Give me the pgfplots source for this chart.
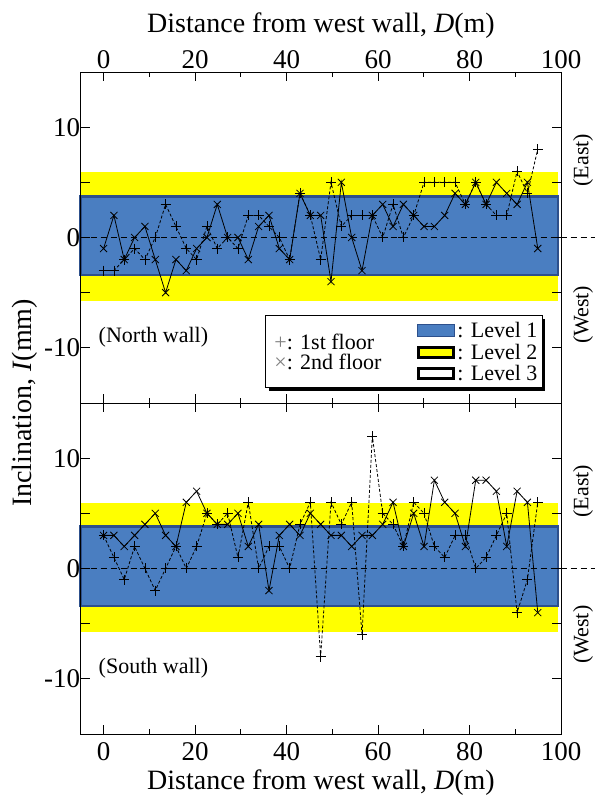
\documentclass[border=0pt]{standalone}
\usepackage{fontspec}
\setmainfont{Liberation Serif}
\usepackage{pgfplots}
\pgfplotsset{compat=1.18}
\definecolor{lvA}{RGB}{74,126,193}
\definecolor{lvAd}{RGB}{45,80,140}
\definecolor{lvB}{RGB}{255,255,0}
\newcommand{\tickf}{\fontsize{27}{30}\selectfont}
\newcommand{\labf}{\fontsize{28}{32}\selectfont}
\newcommand{\legf}{\fontsize{22}{25}\selectfont}
\tikzset{zeroline/.style={black, line width=0.8pt, dash pattern=on 6pt off 4pt}}
\pgfplotsset{
  panel/.style={
    scale only axis, width=480.3pt, height=331pt,
    xmin=-5, xmax=100, ymin=-15, ymax=15,
    xtick={0,20,40,60,80,100}, xticklabels={0,20,40,60,80,100},
    minor xtick={10,30,50,70,90},
    ytick={-10,-5,0,5,10}, yticklabels={-10,,0,,10},
    tick pos=both, tick align=inside,
    major tick length=9pt, minor tick length=5pt,
    tick style={black, line width=0.8pt},
    axis line style={black, line width=0.8pt},
    tick label style={font=\tickf},
    yticklabel style={xshift=3pt},
    clip=false, axis on top,
  },
  secondfl/.style={black, line width=0.8pt, mark=x, mark size=5pt, mark options={solid, line width=0.8pt}},
  firstfl/.style={black, line width=0.8pt, dash pattern=on 3pt off 2pt, mark=+, mark size=5pt, mark options={solid, line width=0.8pt}},
}
\pgfplotstableread{
x y
0.00 -1
2.26 2
4.52 -2
6.78 0
9.04 1
11.30 -2
13.56 -5
15.82 -2
18.08 -3
20.34 -1
22.60 0
24.86 3
27.12 0
29.38 0
31.64 -2
33.90 1
36.16 2
38.42 -1
40.68 -2
42.94 4
45.20 2
47.46 2
49.72 -4
51.98 5
54.24 0
56.50 -3
58.76 2
61.02 3
63.28 1
65.54 3
67.80 2
70.06 1
72.32 1
74.58 2
76.84 4
79.10 3
81.36 5
83.62 3
85.88 5
88.14 4
90.40 3
92.66 5
94.92 -1
}\northsecond
\pgfplotstableread{
x y
0.00 -3
2.26 -3
4.52 -2
6.78 -1
9.04 -2
11.30 0
13.56 3
15.82 1
18.08 -1
20.34 -2
22.60 1
24.86 -1
27.12 0
29.38 -1
31.64 2
33.90 2
36.16 1
38.42 0
40.68 -2
42.94 4
45.20 2
47.46 -2
49.72 5
51.98 1
54.24 2
56.50 2
58.76 2
61.02 0
63.28 3
65.54 0
67.80 2
70.06 5
72.32 5
74.58 5
76.84 5
79.10 3
81.36 5
83.62 3
85.88 2
88.14 2
90.40 6
92.66 4
94.92 8
}\northfirst
\pgfplotstableread{
x y
0.00 3
2.26 3
4.52 2
6.78 3
9.04 4
11.30 5
13.56 3
15.82 2
18.08 6
20.34 7
22.60 5
24.86 4
27.12 4
29.38 5
31.64 2
33.90 4
36.16 -2
38.42 3
40.68 4
42.94 3
45.20 5
47.46 4
49.72 3
51.98 3
54.24 2
56.50 3
58.76 3
61.02 4
63.28 6
65.54 2
67.80 5
70.06 2
72.32 8
74.58 6
76.84 5
79.10 2
81.36 8
83.62 8
85.88 7
88.14 2
90.40 7
92.66 6
94.92 -4
}\southsecond
\pgfplotstableread{
x y
0.00 3
2.26 1
4.52 -1
6.78 2
9.04 0
11.30 -2
13.56 0
15.82 2
18.08 0
20.34 2
22.60 5
24.86 4
27.12 5
29.38 1
31.64 6
33.90 0
36.16 2
38.42 2
40.68 0
42.94 4
45.20 6
47.46 -8
49.72 6
51.98 4
54.24 6
56.50 -6
58.76 12
61.02 5
63.28 4
65.54 2
67.80 6
70.06 5
72.32 2
74.58 1
76.84 3
79.10 3
81.36 0
83.62 1
85.88 3
88.14 5
90.40 -4
92.66 -1
94.92 6
}\southfirst
\begin{document}
\begin{tikzpicture}
\useasboundingbox (0,0) rectangle (595pt,796pt);
% top panel (North wall)
\begin{axis}[panel, at={(80.7pt,393pt)}, anchor=south west, xticklabel pos=upper]
\fill[lvB] (axis cs:-5,-5.8) rectangle (axis cs:99.3,5.9);
\filldraw[fill=lvA, draw=lvAd, line width=2.5pt] (axis cs:-5,-3.4) rectangle (axis cs:99.3,3.7);
\draw[zeroline] (axis cs:-5,0) -- (axis cs:107.5,0);
\addplot[secondfl] table[x=x,y=y] {\northsecond};
\addplot[firstfl] table[x=x,y=y] {\northfirst};
\node[anchor=west, font=\legf, inner sep=0pt] at (axis cs:-1.1,-9) {(North wall)};
\node[rotate=90, font=\legf] at (axis cs:104.8,7) {(East)};
\node[rotate=90, font=\legf] at (axis cs:104.8,-7) {(West)};
% legend
\fill[black] ([xshift=3pt,yshift=-3pt]axis cs:35.4,-7.1) rectangle ([xshift=3pt,yshift=-3pt]axis cs:95.9,-13.6);
\filldraw[fill=white, draw=black, line width=0.8pt] (axis cs:35.4,-7.1) rectangle (axis cs:95.9,-13.6);
\node[anchor=west, font=\legf, inner sep=0pt] at (axis cs:37.3,-9.45) {\textcolor{gray}{+}: 1st floor};
\node[anchor=west, font=\legf, inner sep=0pt] at (axis cs:37.3,-11.3) {\textcolor{gray}{×}: 2nd floor};
\filldraw[fill=lvA, draw=lvAd, line width=1pt] (axis cs:68.6,-7.85) rectangle (axis cs:76.8,-8.95);
\filldraw[fill=lvB, draw=black, line width=3pt] (axis cs:68.9,-9.95) rectangle (axis cs:76.5,-10.85);
\filldraw[fill=white, draw=black, line width=3pt] (axis cs:68.9,-11.85) rectangle (axis cs:76.5,-12.75);
\node[anchor=west, font=\legf, inner sep=0pt] at (axis cs:77.3,-8.4) {: Level 1};
\node[anchor=west, font=\legf, inner sep=0pt] at (axis cs:77.3,-10.4) {: Level 2};
\node[anchor=west, font=\legf, inner sep=0pt] at (axis cs:77.3,-12.3) {: Level 3};
\end{axis}
% bottom panel (South wall)
\begin{axis}[panel, at={(80.7pt,62pt)}, anchor=south west, xticklabel pos=lower,
  xticklabel style={yshift=-5pt}]
\fill[lvB] (axis cs:-5,-5.8) rectangle (axis cs:99.3,5.9);
\filldraw[fill=lvA, draw=lvAd, line width=2.5pt] (axis cs:-5,-3.4) rectangle (axis cs:99.3,3.8);
\draw[zeroline] (axis cs:-5,0) -- (axis cs:107.5,0);
\addplot[secondfl] table[x=x,y=y] {\southsecond};
\addplot[firstfl] table[x=x,y=y] {\southfirst};
\node[anchor=west, font=\legf, inner sep=0pt] at (axis cs:-1.1,-9) {(South wall)};
\node[rotate=90, font=\legf] at (axis cs:104.8,7) {(East)};
\node[rotate=90, font=\legf] at (axis cs:104.8,-6) {(West)};
\end{axis}
\node[anchor=base, font=\labf, inner sep=0pt] at (321pt,763pt) {Distance from west wall, \textit{D}(m)};
\node[anchor=base, font=\labf, inner sep=0pt] at (321pt,6pt) {Distance from west wall, \textit{D}(m)};
\node[rotate=90, font=\labf] at (25pt,393pt) {Inclination, \textit{I}(mm)};
\end{tikzpicture}
\end{document}
